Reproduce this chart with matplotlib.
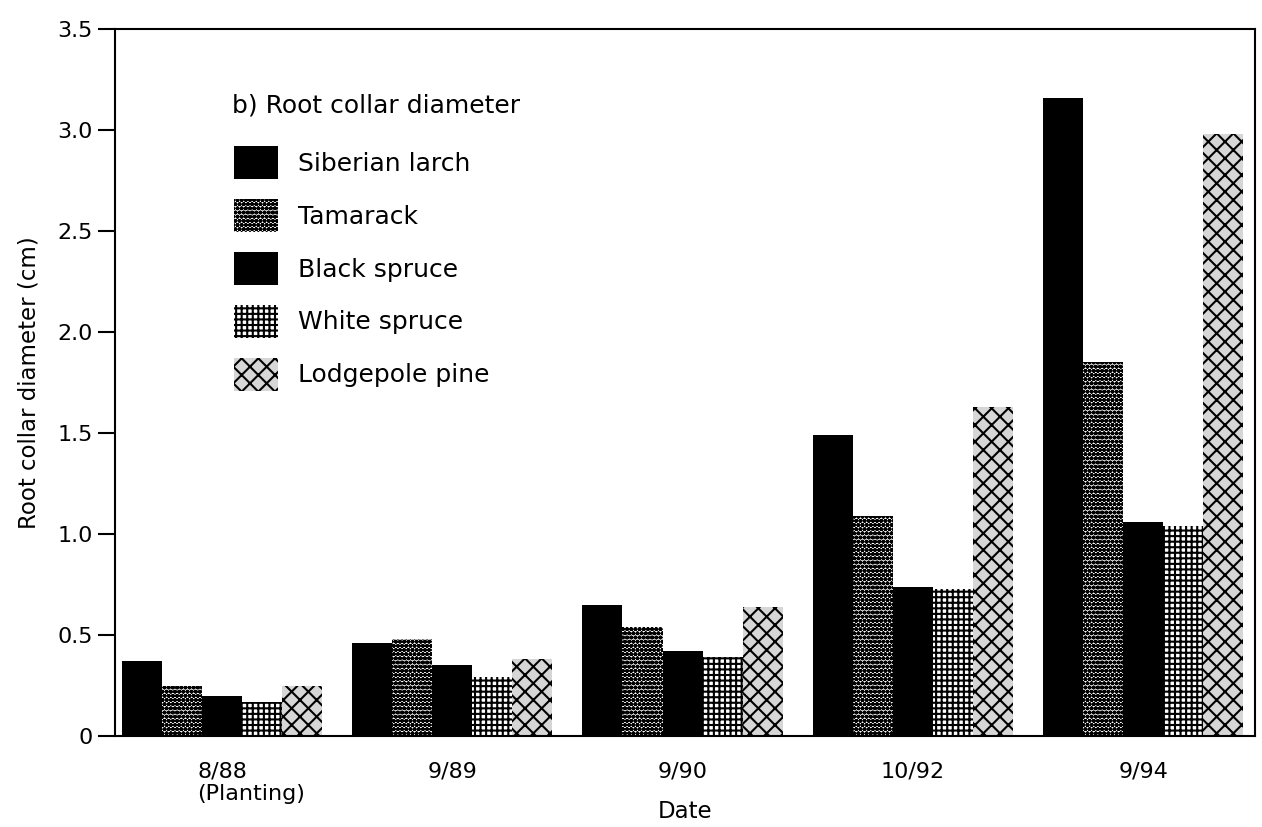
import numpy as np
import matplotlib.pyplot as plt

plt.rcParams["font.family"] = ["DejaVu Sans"]
plt.rcParams["hatch.linewidth"] = 1.5

dates = ["8/88", "9/89", "9/90", "10/92", "9/94"]
species = ["Siberian larch", "Tamarack", "Black spruce", "White spruce", "Lodgepole pine"]

siberian_larch = [0.37, 0.46, 0.65, 1.49, 3.16]
tamarack = [0.25, 0.48, 0.54, 1.09, 1.85]
black_spruce = [0.20, 0.35, 0.42, 0.74, 1.06]
white_spruce = [0.17, 0.29, 0.39, 0.73, 1.04]
lodgepole_pine = [0.25, 0.38, 0.64, 1.63, 2.98]

series = [siberian_larch, tamarack, black_spruce, white_spruce, lodgepole_pine]

# fill patterns, roughly like the printed textures
styles = [
    dict(facecolor="black", hatch=None),
    dict(facecolor="white", hatch="oooo"),
    dict(facecolor="black", hatch=None),
    dict(facecolor="white", hatch="+++"),
    dict(facecolor="#d6d6d6", hatch="xx"),
]

fig = plt.figure(figsize=(12.62, 8.27), dpi=100)
ax = fig.add_axes([0.0911, 0.110, 0.9034, 0.8549])

x = np.arange(len(dates))
w = 0.174

for i in range(len(series)):
    ax.bar(
        x + (i - 2) * w,
        series[i],
        w,
        label=species[i],
        edgecolor="black",
        linewidth=0,
        **styles[i]
    )

ax.set_xlim(-0.465, 4.486)
ax.set_ylim(0, 3.5)

ax.set_yticks(np.arange(0, 3.51, 0.5))
ax.set_yticklabels(["0", "0.5", "1.0", "1.5", "2.0", "2.5", "3.0", "3.5"])
ax.set_xticks(x)
ax.set_xticklabels(dates)

ax.tick_params(axis="y", direction="out", length=12, width=1.5, pad=4, labelsize=16)
ax.tick_params(axis="x", length=0, pad=18, labelsize=16)

for s in ax.spines.values():
    s.set_linewidth(1.5)

ax.set_ylabel("Root collar diameter (cm)", fontsize=16.5, labelpad=12)
ax.set_xlabel("Date", fontsize=16.5, labelpad=14)

ax.annotate(
    "(Planting)",
    xy=(0, 0),
    xycoords=("data", "axes fraction"),
    xytext=(-25, -48),
    textcoords="offset pixels",
    ha="left",
    va="top",
    fontsize=16,
)

fig.text(232 / 1262, 1 - 105 / 827, "b) Root collar diameter", fontsize=18,
         ha="left", va="center")

ax.legend(
    loc="upper left",
    bbox_to_anchor=(234 / 1262, 1 - 146 / 827),
    bbox_transform=fig.transFigure,
    frameon=False,
    fontsize=18,
    handlelength=1.75,
    handleheight=1.65,
    labelspacing=0.8,
    handletextpad=0.8,
    borderpad=0,
    borderaxespad=0,
)

fig.savefig("out.png", dpi=100)
